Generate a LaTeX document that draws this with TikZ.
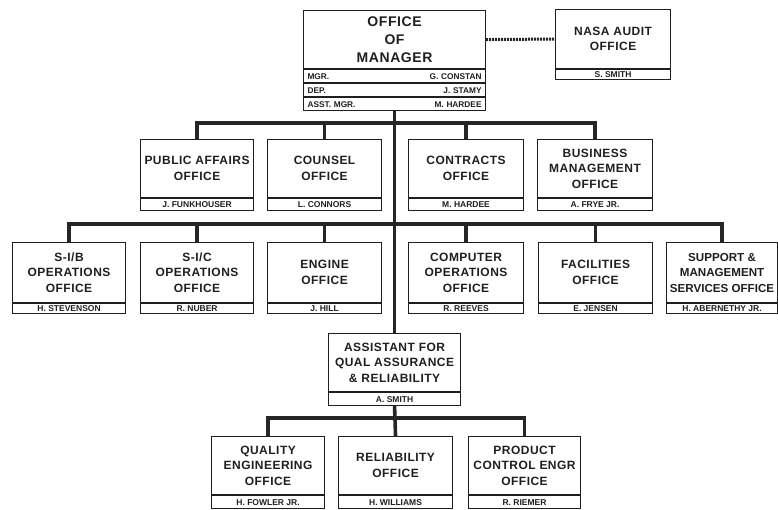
\documentclass[tikz,border=0pt]{standalone}
\usepackage{fontspec}
\setmainfont{Liberation Sans}
\newfontfamily\widesans[LetterSpace=4]{Liberation Sans}
\begin{document}
\begin{tikzpicture}[x=1pt,y=1pt,
  titlebox/.style={draw=black!88, line width=1.1pt, inner sep=1pt, align=center,
    text=black!88, font=\widesans\fontsize{12}{15.5}\selectfont\bfseries},
  narrowtitle/.style={font=\rmfamily\fontsize{11.6}{15.5}\selectfont\bfseries},
  namebox/.style={draw=black!88, line width=1.1pt, inner sep=0pt, align=center,
    text=black!88, font=\fontsize{8.5}{9}\selectfont\bfseries},
  rowbox/.style={draw=black!88, line width=1.1pt, inner ysep=0pt, inner xsep=4pt,
    minimum width=182, text width=174, minimum height=13, anchor=north,
    text=black!88, font=\fontsize{8.3}{9}\selectfont\bfseries},
  bus/.style={draw=black!85, line width=3.6pt},
  dotline/.style={draw=black!85, line width=3pt, dash pattern=on 2pt off 1pt}]
\useasboundingbox (0,0) rectangle (778,-510);

% office box: [extra title style] name, left x, top y, width, title height, name height, title, person
\newcommand\orgbox[9][]{%
  \node[titlebox, #1, minimum width=#5, minimum height=#6, anchor=north west] (#2) at (#3,-#4) {#8};
  \node[namebox, minimum width=#5, minimum height=#7, anchor=north] (#2p) at (#2.south) {#9};
}

% top: office of manager with its three staff rows
\node[titlebox, minimum width=182, minimum height=58, anchor=north west,
  font=\widesans\fontsize{14}{18}\selectfont\bfseries] (mgr) at (303,-10) {OFFICE\\OF\\MANAGER};
\node[rowbox] (mgrA) at (mgr.south) {MGR.\hfill G. CONSTAN};
\node[rowbox] (mgrB) at (mgrA.south) {DEP.\hfill J. STAMY};
\node[rowbox] (mgrC) at (mgrB.south) {ASST. MGR.\hfill M. HARDEE};

\orgbox{audit}{555}{9}{115}{59}{10}{NASA AUDIT\\OFFICE}{S. SMITH}

% first tier of offices
\orgbox{pa}{140}{139}{113}{58}{12}{PUBLIC AFFAIRS\\OFFICE}{J. FUNKHOUSER}
\orgbox{co}{267}{139}{114}{58}{12}{COUNSEL\\OFFICE}{L. CONNORS}
\orgbox{ct}{408}{139}{115}{58}{12}{CONTRACTS\\OFFICE}{M. HARDEE}
\orgbox{bm}{537}{139}{115}{58}{12}{BUSINESS\\MANAGEMENT\\OFFICE}{A. FRYE JR.}

% second tier of offices
\orgbox{sb}{12}{242}{113}{60}{10}{S-I/B\\OPERATIONS\\OFFICE}{H. STEVENSON}
\orgbox{sc}{140}{242}{113}{60}{10}{S-I/C\\OPERATIONS\\OFFICE}{R. NUBER}
\orgbox{en}{267}{242}{114}{60}{10}{ENGINE\\OFFICE}{J. HILL}
\orgbox{cp}{408}{242}{115}{60}{10}{COMPUTER\\OPERATIONS\\OFFICE}{R. REEVES}
\orgbox{fa}{538}{242}{114}{60}{10}{FACILITIES\\OFFICE}{E. JENSEN}
\orgbox[narrowtitle]{sm}{666}{242}{111}{60}{10}{SUPPORT \&\\MANAGEMENT\\SERVICES OFFICE}{H. ABERNETHY JR.}

% quality assurance branch
\orgbox{asst}{328}{333}{132}{58}{13}{ASSISTANT FOR\\QUAL ASSURANCE\\\& RELIABILITY}{A. SMITH}
\orgbox{qe}{211}{436}{113}{58}{13}{QUALITY\\ENGINEERING\\OFFICE}{H. FOWLER JR.}
\orgbox{re}{338}{436}{114}{58}{13}{RELIABILITY\\OFFICE}{H. WILLIAMS}
\orgbox{pc}{468}{436}{112}{58}{13}{PRODUCT\\CONTROL ENGR\\OFFICE}{R. RIEMER}

% bus levels
\coordinate (b1) at (394,-123);
\coordinate (b2) at (394,-224);
\coordinate (b3) at (394,-418);

% connectors
\draw[dotline] (mgr.east) -- (audit.west);
\draw[bus] (mgrC.south) -- (asst.north);
\draw[bus] (pa.north) |- (b1) -| (bm.north);
\draw[bus] (co.north) -- (co.north |- b1);
\draw[bus] (ct.north) -- (ct.north |- b1);
\draw[bus] (sb.north) |- (b2) -| (sm.north);
\draw[bus] (sc.north) -- (sc.north |- b2);
\draw[bus] (en.north) -- (en.north |- b2);
\draw[bus] (cp.north) -- (cp.north |- b2);
\draw[bus] (fa.north) -- (fa.north |- b2);
\draw[bus] (asstp.south) -- (re.north);
\draw[bus] (qe.north) |- (b3) -| (pc.north);
\end{tikzpicture}
\end{document}
